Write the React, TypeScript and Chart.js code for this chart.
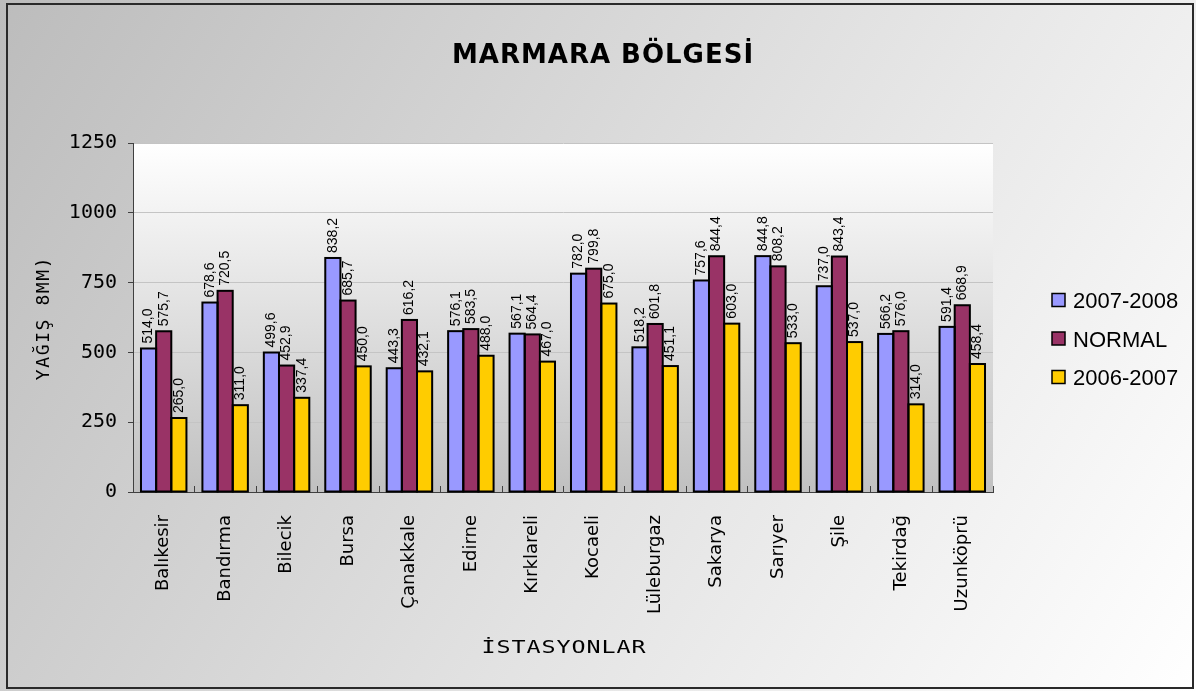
import React, { useEffect, useRef } from 'react';
import { Chart, registerables } from 'chart.js';

Chart.register(...registerables);

const categories = ['Balıkesir', 'Bandırma', 'Bilecik', 'Bursa', 'Çanakkale', 'Edirne', 'Kırklareli', 'Kocaeli', 'Lüleburgaz', 'Sakarya', 'Sarıyer', 'Şile', 'Tekirdağ', 'Uzunköprü'];
const series20072008 = [514.0, 678.6, 499.6, 838.2, 443.3, 576.1, 567.1, 782.0, 518.2, 757.6, 844.8, 737.0, 566.2, 591.4];
const seriesNormal = [575.7, 720.5, 452.9, 685.7, 616.2, 583.5, 564.4, 799.8, 601.8, 844.4, 808.2, 843.4, 576.0, 668.9];
const series20062007 = [265.0, 311.0, 337.4, 450.0, 432.1, 488.0, 467.0, 675.0, 451.1, 603.0, 533.0, 537.0, 314.0, 458.4];
const seriesNames = ['2007-2008', 'NORMAL', '2006-2007'];
const seriesColors = ['#9999FF', '#993366', '#FFCC00'];
const yMin = 0;
const yMax = 1250;
const yStep = 250;
const chartTitle = 'MARMARA BÖLGESİ';
const yAxisTitle = 'YAĞIŞ 8MM)';
const xAxisTitle = 'İSTASYONLAR';

const fmt = (v: number) => v.toFixed(1).replace('.', ',');

const decorPlugin = {
  id: 'decor',
  beforeDraw(chart: any) {
    const { ctx, width, height, chartArea } = chart;
    ctx.save();
    const g = ctx.createLinearGradient(0, 0, width, height);
    g.addColorStop(0, '#bcbcbc');
    g.addColorStop(0.55, '#e2e2e2');
    g.addColorStop(1, '#ffffff');
    ctx.fillStyle = g;
    ctx.fillRect(0, 0, width, height);
    ctx.strokeStyle = '#2a2a2a';
    ctx.lineWidth = 2;
    ctx.strokeRect(7, 4, 1186, 684);
    const pg = ctx.createLinearGradient(0, chartArea.top, 0, chartArea.bottom);
    pg.addColorStop(0, '#ffffff');
    pg.addColorStop(1, '#c0c0c0');
    ctx.fillStyle = pg;
    ctx.fillRect(chartArea.left, chartArea.top, chartArea.right - chartArea.left, chartArea.bottom - chartArea.top);
    ctx.restore();
  },
  afterDatasetsDraw(chart: any) {
    const { ctx } = chart;
    ctx.save();
    // bar outlines
    ctx.strokeStyle = '#000';
    ctx.lineWidth = 2;
    chart.data.datasets.forEach((ds: any, di: number) => {
      const meta = chart.getDatasetMeta(di);
      meta.data.forEach((bar: any) => {
        const p = bar.getProps(['x', 'y', 'base', 'width'], true);
        ctx.strokeRect(p.x - p.width / 2, p.y, p.width, p.base - p.y);
      });
    });
    // value labels
    ctx.font = '14px "Liberation Sans", Arial, sans-serif';
    ctx.fillStyle = '#000';
    ctx.textAlign = 'left';
    ctx.textBaseline = 'middle';
    chart.data.datasets.forEach((ds: any, di: number) => {
      const meta = chart.getDatasetMeta(di);
      meta.data.forEach((bar: any, i: number) => {
        ctx.save();
        ctx.translate(bar.x, bar.y - 5);
        ctx.rotate(-Math.PI / 2);
        ctx.fillText(fmt(ds.data[i]), 0, 0);
        ctx.restore();
      });
    });
    ctx.restore();
  },
  afterDraw(chart: any) {
    const { ctx, chartArea } = chart;
    ctx.save();
    // inside tick marks on x axis
    ctx.strokeStyle = '#404040';
    ctx.lineWidth = 1;
    const n = categories.length;
    const w = (chartArea.right - chartArea.left) / n;
    ctx.beginPath();
    for (let i = 1; i <= n; i++) {
      const x = Math.round(chartArea.left + i * w) + 0.5;
      ctx.moveTo(x, chartArea.bottom);
      ctx.lineTo(x, chartArea.bottom - 6);
    }
    ctx.stroke();

    // title
    ctx.fillStyle = '#000';
    ctx.font = 'bold 26px "DejaVu Sans", sans-serif';
    (ctx as any).letterSpacing = '1px';
    ctx.textAlign = 'center';
    ctx.textBaseline = 'alphabetic';
    ctx.fillText(chartTitle, 603, 63);

    // x axis title (wide glyphs)
    ctx.font = '18px "DejaVu Sans Mono", monospace';
    (ctx as any).letterSpacing = '0.7px';
    ctx.save();
    ctx.translate(564, 653);
    ctx.scale(1.3, 1);
    ctx.fillText(xAxisTitle, 0, 0);
    ctx.restore();

    // y axis title
    (ctx as any).letterSpacing = '1.6px';
    ctx.save();
    ctx.translate(49, 318);
    ctx.rotate(-Math.PI / 2);
    ctx.fillText(yAxisTitle, 0, 0);
    ctx.restore();

    // legend
    (ctx as any).letterSpacing = '0px';
    ctx.font = '22px "Liberation Sans", Arial, sans-serif';
    ctx.textAlign = 'left';
    const centers = [300, 338.5, 377];
    seriesNames.forEach((name, i) => {
      const cy = centers[i];
      ctx.fillStyle = seriesColors[i];
      ctx.fillRect(1052, cy - 6.5, 13, 13);
      ctx.strokeStyle = '#000';
      ctx.lineWidth = 1.5;
      ctx.strokeRect(1052, cy - 6.5, 13, 13);
      ctx.fillStyle = '#000';
      ctx.fillText(name, 1073, cy + 8);
    });
    ctx.restore();
  },
};

export default function App() {
  const ref = useRef<HTMLCanvasElement | null>(null);
  useEffect(() => {
    if (!ref.current) return;
    const datasetsSrc = [series20072008, seriesNormal, series20062007];
    const chart = new Chart(ref.current, {
      type: 'bar',
      data: {
        labels: categories,
        datasets: datasetsSrc.map((d, i) => ({
          label: seriesNames[i],
          data: d,
          backgroundColor: seriesColors[i],
          borderWidth: 0,
          categoryPercentage: 0.74,
          barPercentage: 1.0,
        })),
      },
      options: {
        responsive: false,
        animation: false,
        layout: { padding: { left: 0, right: 203, top: 143, bottom: 0 } },
        plugins: {
          legend: { display: false },
          title: { display: false },
          tooltip: { enabled: false },
        },
        scales: {
          x: {
            grid: { display: false, drawTicks: false },
            border: { display: true, color: '#404040', width: 1 },
            ticks: {
              autoSkip: false,
              minRotation: 90,
              maxRotation: 90,
              padding: 23,
              color: '#000',
              font: { family: '"DejaVu Sans", sans-serif', size: 18 },
            },
            afterFit: (s: any) => { s.height = 199; },
          },
          y: {
            min: yMin,
            max: yMax,
            ticks: {
              stepSize: yStep,
              padding: 11,
              color: '#000',
              font: { family: '"DejaVu Sans Mono", monospace', size: 20 },
              callback: (v: any) => String(v),
            },
            grid: {
              color: (c: any) => (c.tick && c.tick.value === 0 ? 'rgba(0,0,0,0)' : '#c4c4c4'),
              tickColor: '#404040',
              tickLength: 5,
              lineWidth: 1,
            },
            border: { display: true, color: '#404040', width: 1 },
            afterFit: (s: any) => { s.width = 133; },
          },
        },
      },
      plugins: [decorPlugin],
    });
    return () => chart.destroy();
  }, []);
  return (
    <div style={{ position: 'fixed', left: 0, top: 0, width: 1196, height: 691 }}>
      <canvas ref={ref} width={1196} height={691} style={{ display: 'block', width: 1196, height: 691 }} />
    </div>
  );
}
